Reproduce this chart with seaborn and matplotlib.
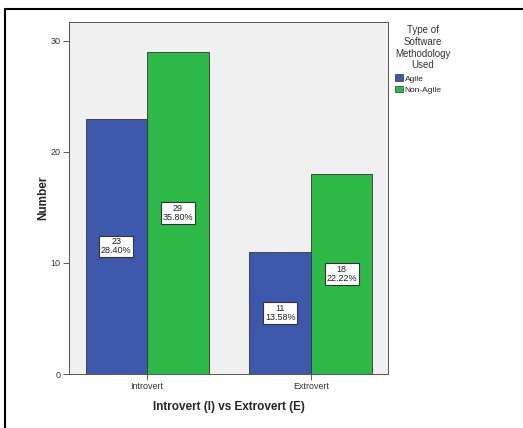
import matplotlib
matplotlib.use("Agg")
import matplotlib.pyplot as plt
import seaborn as sns
import pandas as pd
from matplotlib.lines import Line2D
from matplotlib.patches import Patch

categories = ["Introvert", "Extrovert"]
series = ["Agile", "Non-Agile"]
agile = [23, 11]
non_agile = [29, 18]
agile_pct = ["28.40%", "13.58%"]
non_agile_pct = ["35.80%", "22.22%"]
colors = ["#3E58AC", "#2EB848"]

rows = []
for i, c in enumerate(categories):
    rows.append({"cat": c, "type": "Agile", "n": agile[i], "pct": agile_pct[i]})
    rows.append({"cat": c, "type": "Non-Agile", "n": non_agile[i], "pct": non_agile_pct[i]})
df = pd.DataFrame(rows)

sns.set_style("white")
plt.rcParams["font.family"] = ["Liberation Sans", "DejaVu Sans"]

fig = plt.figure(figsize=(5.23, 4.28), dpi=100)
W, H = 523, 428
ax = fig.add_axes([69 / W, 1 - 374 / H, (388 - 69) / W, (374 - 22) / H])
ax.set_facecolor("#F0F0F0")

sns.barplot(data=df, x="cat", y="n", hue="type", order=categories, hue_order=series,
            palette=colors, width=0.75, saturation=1, edgecolor="#333333", linewidth=0.6,
            ax=ax, legend=False)

ax.set_ylim(0, 31.7)
ax.set_xlim(-0.476, 1.47)
ax.set_yticks([0, 10, 20, 30])
ax.tick_params(axis="both", labelsize=6.5, length=4, width=0.6, color="#444444",
               labelcolor="#333333", direction="out", bottom=True, left=True, pad=2)
for s in ax.spines.values():
    s.set_color("#555555")
    s.set_linewidth(0.7)

ax.set_xlabel("Introvert (I) vs Extrovert (E)", fontsize=8.5, fontweight="bold", labelpad=7)
ax.set_ylabel("Number", fontsize=8.5, fontweight="bold", labelpad=1)

# annotations at half height
for container, vals, pcts in zip(ax.containers, [agile, non_agile], [agile_pct, non_agile_pct]):
    for bar, v, p in zip(container, vals, pcts):
        x = bar.get_x() + bar.get_width() / 2
        ax.text(x, v / 2, f"{v}\n{p}", ha="center", va="center", fontsize=6.5,
                linespacing=0.95, color="#222222",
                bbox=dict(boxstyle="square,pad=0.2", facecolor="white",
                          edgecolor="#333333", linewidth=0.8))

handles = [Patch(facecolor=colors[0], edgecolor="#333333", linewidth=0.5),
           Patch(facecolor=colors[1], edgecolor="#333333", linewidth=0.5)]
leg = fig.legend(handles, series, title="Type of\nSoftware\nMethodology\nUsed",
                 loc="upper left", bbox_to_anchor=(392 / W, 1 - 22 / H), frameon=False,
                 fontsize=6, title_fontsize=7, handlelength=0.9, handleheight=0.9,
                 handletextpad=0.2, labelspacing=0.35, borderaxespad=0)
leg.get_title().set_multialignment("center")
leg.get_title().set_color("#333333")
leg._legend_box.align = "left"
leg._legend_box.sep = 3

# outer frame
fig.add_artist(Line2D([5 / W, 5 / W], [0, 1 - 9 / H], transform=fig.transFigure,
                      color="black", linewidth=1.5))
fig.add_artist(Line2D([5 / W, 1], [1 - 9 / H, 1 - 9 / H], transform=fig.transFigure,
                      color="black", linewidth=1.5))

fig.savefig("out.png", dpi=100)
